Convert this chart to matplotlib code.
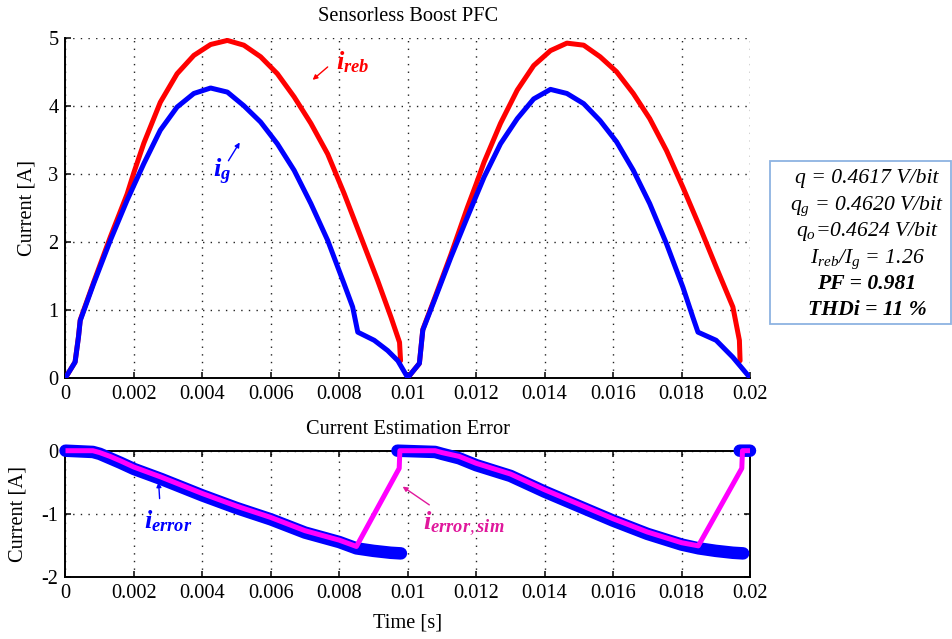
import numpy as np
import matplotlib
matplotlib.use('Agg')
import matplotlib.pyplot as plt
from matplotlib.patches import Rectangle

# ---------------- data ----------------
t_ig = [0, 0.00028, 0.00038, 0.00043, 0.00082, 0.00131, 0.0018, 0.00229, 0.00277,
        0.00326, 0.00375, 0.00424, 0.00473, 0.00521, 0.0057, 0.00619, 0.00668,
        0.00717, 0.00766, 0.00814, 0.00839, 0.00854, 0.00902, 0.00941, 0.00971,
        0.0100,
        0.01034, 0.01044, 0.01078, 0.01126, 0.01174, 0.01223, 0.01271, 0.0132,
        0.01368, 0.01417, 0.01465, 0.01514, 0.01562, 0.0161, 0.01659, 0.01707,
        0.01756, 0.01804, 0.01833, 0.01848, 0.01901, 0.0195, 0.0200]
ig = [0, 0.23, 0.60, 0.84, 1.38, 2.02, 2.61, 3.15, 3.64,
      3.98, 4.18, 4.26, 4.20, 4.00, 3.76, 3.44, 3.05,
      2.56, 2.02, 1.38, 1.04, 0.67, 0.55, 0.40, 0.25,
      0.0,
      0.21, 0.70, 1.14, 1.77, 2.36, 2.95, 3.44, 3.81,
      4.10, 4.24, 4.18, 4.03, 3.78, 3.47, 3.05, 2.56,
      1.97, 1.33, 0.89, 0.67, 0.55, 0.30, 0.0]

t_ireb = [0, 0.00028, 0.00038, 0.00043, 0.00082, 0.00131, 0.0018, 0.002, 0.00229,
          0.00277, 0.00326, 0.00375, 0.00424, 0.00473, 0.00521, 0.0057, 0.00619,
          0.00668, 0.00717, 0.00766, 0.00814, 0.00863, 0.00912, 0.00951, 0.00976,
          0.00979, np.nan,
          0.0100, 0.01034, 0.01044, 0.01078, 0.01126, 0.01174, 0.012, 0.01223,
          0.01271, 0.0132, 0.01368, 0.01417, 0.01465, 0.01514, 0.01562, 0.0161,
          0.01659, 0.01707, 0.01756, 0.01804, 0.01853, 0.01901, 0.0195, 0.01969,
          0.01971]
ireb = [0, 0.23, 0.61, 0.85, 1.40, 2.07, 2.70, 3.02, 3.45,
        4.05, 4.47, 4.74, 4.90, 4.96, 4.89, 4.72, 4.47,
        4.13, 3.74, 3.29, 2.71, 2.07, 1.43, 0.89, 0.52,
        0.25, np.nan,
        0.0, 0.21, 0.71, 1.16, 1.81, 2.50, 2.85, 3.17,
        3.74, 4.23, 4.59, 4.81, 4.92, 4.89, 4.72, 4.50,
        4.18, 3.81, 3.34, 2.80, 2.22, 1.63, 1.04, 0.55,
        0.25]

t_err = [0, 0.0008, 0.001, 0.0013, 0.0016, 0.002, 0.0028, 0.004, 0.005, 0.006,
         0.007, 0.008, 0.0085, 0.009, 0.0095, 0.0098, np.nan,
         0.0097, 0.0108, 0.011, 0.0115, 0.012, 0.013, 0.014, 0.015, 0.016,
         0.017, 0.018, 0.0185, 0.019, 0.0195, 0.0198, np.nan, 0.0197, 0.0200]
i_err = [0, -0.02, -0.05, -0.12, -0.19, -0.29, -0.45, -0.71, -0.91, -1.09,
         -1.30, -1.45, -1.55, -1.59, -1.62, -1.63, np.nan,
         0.0, -0.02, -0.05, -0.12, -0.23, -0.40, -0.65, -0.88, -1.11,
         -1.32, -1.49, -1.55, -1.59, -1.62, -1.63, np.nan, 0.0, 0.0]

t_sim = [0, 0.0008, 0.001, 0.0013, 0.0016, 0.002, 0.0028, 0.004, 0.005, 0.006,
         0.007, 0.008, 0.0085, 0.00975, 0.00977, 0.0108, 0.011, 0.0115, 0.012,
         0.013, 0.014, 0.015, 0.016, 0.017, 0.018, 0.01849, 0.01976, 0.01978,
         0.0200]
i_sim = [0, 0.0, -0.03, -0.09, -0.16, -0.26, -0.42, -0.68, -0.88, -1.06,
         -1.27, -1.42, -1.52, -0.28, 0.0, 0.0, -0.03, -0.09, -0.20,
         -0.37, -0.62, -0.85, -1.08, -1.29, -1.46, -1.51, -0.28, 0.0,
         0.0]

xticks = [0, 0.002, 0.004, 0.006, 0.008, 0.01, 0.012, 0.014, 0.016, 0.018, 0.02]
xticklabels = ['0', '0.002', '0.004', '0.006', '0.008', '0.01', '0.012',
               '0.014', '0.016', '0.018', '0.02']
yticks_top = [0, 1, 2, 3, 4, 5]
yticks_bot = [-2, -1, 0]

box_lines = ['q = 0.4617 V/bit',
             r'q$_\mathrm{g}$ = 0.4620 V/bit',
             r'q$_\mathrm{o}$=0.4624 V/bit',
             r'I$_\mathrm{reb}$/I$_\mathrm{g}$ = 1.26',
             'PF = 0.981',
             'THDi = 11 %']

# ---------------- style ----------------
plt.rcParams['font.family'] = ['Liberation Serif', 'DejaVu Serif']
plt.rcParams['mathtext.fontset'] = 'custom'
plt.rcParams['mathtext.rm'] = 'Liberation Serif:italic'
plt.rcParams['mathtext.it'] = 'Liberation Serif:italic:bold'
plt.rcParams['mathtext.bf'] = 'Liberation Serif:bold'

FS = 14.7
W, H = 953, 639
fig = plt.figure(figsize=(W / 100, H / 100), dpi=100)

x0, x1 = 65.5, 750.0
ax1 = fig.add_axes([x0 / W, 1 - 377.7 / H, (x1 - x0) / W, 340.0 / H])
ax2 = fig.add_axes([x0 / W, 1 - 576.7 / H, (x1 - x0) / W, 126.0 / H])

grid_kw = dict(color='#222222', linestyle=(0, (1, 4.5)), linewidth=1.0)

for ax in (ax1, ax2):
    ax.set_xlim(0, 0.02)
    ax.set_xticks(xticks)
    ax.set_xticklabels(xticklabels)
    ax.grid(True, **grid_kw)
    ax.set_axisbelow(True)
    ax.tick_params(direction='in', length=4.5, width=1.1, labelsize=FS, pad=5)
    for s in ax.spines.values():
        s.set_linewidth(1.4)

# top axes
ax1.set_ylim(0, 5)
ax1.set_yticks(yticks_top)
ax1.set_yticklabels([str(v) for v in yticks_top])
ax1.spines['top'].set_visible(False)
ax1.spines['right'].set_visible(False)
ax1.plot(t_ireb, ireb, color='#ff0000', lw=3.6, solid_capstyle='round', solid_joinstyle='round', zorder=3)
ax1.plot(t_ig, ig, color='#0000ff', lw=3.6, solid_capstyle='round', solid_joinstyle='round', zorder=4)
ax1.set_title('Sensorless Boost PFC', fontsize=FS, pad=12)
ax1.set_ylabel('Current [A]', fontsize=FS)
ax1.yaxis.set_label_coords((37 - x0) / (x1 - x0), 0.5)

arrow = dict(arrowstyle='-|>', lw=1.0, mutation_scale=7, shrinkA=0, shrinkB=0)
ax1.text(0.0079, 4.54, r'$i_{reb}$', color='#ff0000', fontsize=19,
         ha='left', va='baseline', zorder=6)
ax1.annotate('', xy=(0.00722, 4.38), xytext=(0.00766, 4.57),
             arrowprops=dict(color='#ff0000', **arrow))
ax1.text(0.0043, 2.94, r'$i_{g}$', color='#0000ff', fontsize=19,
         ha='left', va='baseline', zorder=6)
ax1.annotate('', xy=(0.00509, 3.46), xytext=(0.00476, 3.19),
             arrowprops=dict(color='#0000ff', **arrow))

# bottom axes
ax2.set_ylim(-2, 0)
ax2.set_yticks(yticks_bot)
ax2.set_yticklabels([str(v) for v in yticks_bot])
ax2.tick_params(top=True, right=True)
ax2.plot(t_err, i_err, color='#0000ff', lw=9, solid_capstyle='round',
         solid_joinstyle='round', zorder=3, clip_on=False)
ax2.plot(t_sim, i_sim, color='#ff00ff', lw=3.6, solid_capstyle='butt',
         solid_joinstyle='round', zorder=4, clip_on=False)
ax2.set_title('Current Estimation Error', fontsize=FS, pad=12)
ax2.set_ylabel('Current [A]', fontsize=FS)
ax2.yaxis.set_label_coords((28 - x0) / (x1 - x0), 0.5)
ax2.set_xlabel('Time [s]', fontsize=FS, labelpad=8)

ax2.text(0.00228, -1.23, r'$i_{error}$', color='#0000ff', fontsize=19,
         ha='left', va='baseline', zorder=6)
ax2.annotate('', xy=(0.00272, -0.50), xytext=(0.00275, -0.76),
             arrowprops=dict(color='#0000ff', **arrow))
ax2.text(0.01044, -1.25, r'$i_{error,sim}$', color='#e0189c', fontsize=19,
         ha='left', va='baseline', zorder=6)
ax2.annotate('', xy=(0.00985, -0.57), xytext=(0.01063, -0.86),
             arrowprops=dict(color='#e0189c', **arrow))

# info box
fig.patches.append(Rectangle((770 / W, 1 - 324 / H), (951.5 - 770) / W, (324 - 161) / H,
                             transform=fig.transFigure, fill=False,
                             edgecolor='#8db3e2', linewidth=1.3))
baselines = [182.7, 209.5, 236.0, 262.5, 288.8, 315.0]
for i, (txt, yb) in enumerate(zip(box_lines, baselines)):
    bold = i >= 4
    fig.text(867 / W, 1 - yb / H, txt, fontsize=15.6, style='italic',
             weight='bold' if bold else 'normal', ha='center', va='baseline')

fig.savefig('out.png', dpi=100)
